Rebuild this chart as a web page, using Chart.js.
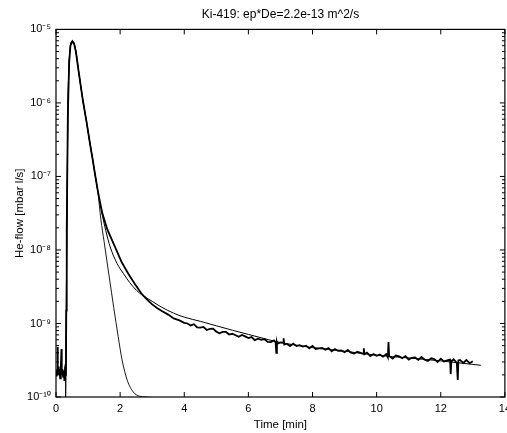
<!DOCTYPE html>
<html>
<head>
<meta charset="utf-8">
<script src="https://cdn.jsdelivr.net/npm/chart.js@4.4.1/dist/chart.umd.min.js"></script>
<style>
  html, body { margin: 0; padding: 0; background: #fff; overflow: hidden; }
  #wrap { width: 516px; height: 433px; }
</style>
</head>
<body>
<div id="wrap"><canvas id="heflow"></canvas></div>
<script>
// measured He-flow (mbar l/s) vs time (min)
const measTime = [0.00, 0.02, 0.04, 0.05, 0.06, 0.08, 0.10, 0.11, 0.13, 0.15, 0.17, 0.18, 0.20, 0.22, 0.24, 0.26, 0.28, 0.30,
  0.31, 0.32, 0.33, 0.34, 0.37, 0.41, 0.45, 0.51, 0.56, 0.62, 0.70, 0.84, 0.95, 1.06, 1.14, 1.22, 1.30, 1.38, 1.45,
  1.60, 1.72, 1.84, 2.05, 2.26, 2.45, 2.68, 2.85, 3.00, 3.15, 3.30, 3.50, 3.67, 3.85, 4.00,
  4.1, 4.2, 4.3, 4.4, 4.5, 4.6, 4.7, 4.8, 4.9, 5.0, 5.1, 5.2, 5.3, 5.4, 5.5, 5.6, 5.7, 5.8, 5.9,
  6.0, 6.1, 6.2, 6.3, 6.4, 6.5, 6.6, 6.7, 6.8, 6.85, 6.87, 6.89, 6.9, 7.0, 7.08, 7.1, 7.12, 7.2, 7.3, 7.4,
  7.5, 7.6, 7.7, 7.8, 7.9, 8.0, 8.1, 8.2, 8.3, 8.4, 8.5, 8.6, 8.7, 8.8, 8.9, 9.0, 9.1, 9.2, 9.3, 9.4,
  9.5, 9.58, 9.6, 9.62, 9.7, 9.8, 9.9, 10.0, 10.1, 10.2, 10.3, 10.35, 10.37, 10.39, 10.5, 10.6, 10.7, 10.8, 10.9,
  11.0, 11.1, 11.2, 11.3, 11.4, 11.5, 11.6, 11.7, 11.8, 11.9, 12.0, 12.1, 12.2, 12.29, 12.31, 12.33, 12.4,
  12.5, 12.53, 12.55, 12.6, 12.7, 12.8, 12.9, 13.0];
const measFlow = [2.3e-10, 1.9e-10, 2.4e-10, 4.8e-10, 2.0e-10, 2.6e-10, 2.1e-10, 2.4e-10, 1.8e-10, 2.5e-10, 4.5e-10, 2.0e-10, 2.4e-10, 1.9e-10, 2.3e-10, 1.7e-10, 2.2e-10, 2.0e-10,
  2.4e-10, 1.5e-9, 6e-9, 1.9e-8, 7e-7, 3.5e-6, 6.0e-6, 6.9e-6, 6.46e-6, 5.0e-6, 2.8e-6, 1.07e-6, 5.6e-7, 2.8e-7, 1.74e-7, 1.05e-7, 6.5e-8, 4.3e-8, 3.1e-8,
  1.9e-8, 1.45e-8, 1.1e-8, 6.8e-9, 4.7e-9, 3.5e-9, 2.5e-9, 2.1e-9, 1.82e-9, 1.62e-9, 1.48e-9, 1.32e-9, 1.17e-9, 1.1e-9, 1.02e-9,
  1.0e-9, 9.41e-10, 9.78e-10, 8.88e-10, 8.81e-10, 8.96e-10, 8.16e-10, 8.47e-10, 8.5e-10, 7.74e-10, 7.36e-10, 7.68e-10, 7.67e-10, 7.08e-10, 7.24e-10, 6.93e-10, 6.58e-10, 6.97e-10, 6.67e-10,
  6.32e-10, 6.54e-10, 5.94e-10, 6.22e-10, 6.0e-10, 6.14e-10, 5.63e-10, 5.59e-10, 5.88e-10, 5.5e-10, 4.0e-10, 5.5e-10, 5.28e-10, 5.51e-10, 5.5e-10, 6.3e-10, 5.16e-10, 5.31e-10, 4.93e-10, 5.32e-10,
  4.95e-10, 5.08e-10, 4.86e-10, 4.99e-10, 4.58e-10, 4.94e-10, 4.51e-10, 4.6e-10, 4.64e-10, 4.41e-10, 4.63e-10, 4.18e-10, 4.48e-10, 4.26e-10, 4.29e-10, 4.07e-10, 4.36e-10, 4.02e-10, 3.89e-10, 4.12e-10,
  3.99e-10, 3.86e-10, 4.6e-10, 3.82e-10, 4.0e-10, 3.61e-10, 3.83e-10, 3.63e-10, 3.78e-10, 3.53e-10, 3.83e-10, 3.46e-10, 5.6e-10, 3.6e-10, 3.34e-10, 3.66e-10, 3.56e-10, 3.36e-10, 3.6e-10,
  3.23e-10, 3.41e-10, 3.45e-10, 3.2e-10, 3.5e-10, 3.21e-10, 3.09e-10, 3.36e-10, 3.27e-10, 2.99e-10, 3.32e-10, 3.05e-10, 3.15e-10, 3.22e-10, 2.05e-10, 3.04e-10, 3.26e-10,
  2.91e-10, 1.7e-10, 3.14e-10, 3.19e-10, 2.9e-10, 3.18e-10, 2.88e-10, 3.07e-10];

// model, slow diffusion part
const fitTime = [0.30, 0.32, 0.33, 0.34, 0.37, 0.41, 0.45, 0.51, 0.56, 0.62, 0.70, 0.84, 0.95, 1.06, 1.14, 1.22, 1.30, 1.36, 1.43,
  1.55, 1.69, 1.90, 2.10, 2.30, 2.52, 2.68, 3.0, 3.3, 3.67, 4.0, 4.5, 5.0, 5.5, 6.0, 6.7, 7.0, 8.0, 9.0, 10.0, 11.0, 12.0, 13.25];
const fitFlow = [0.9e-10, 1.5e-9, 6e-9, 1.9e-8, 7e-7, 3.5e-6, 6.0e-6, 6.9e-6, 6.46e-6, 5.0e-6, 2.8e-6, 1.07e-6, 5.6e-7, 2.8e-7, 1.74e-7, 1.05e-7, 6.5e-8, 4.6e-8, 3.2e-8,
  1.85e-8, 1.1e-8, 6.6e-9, 4.8e-9, 3.6e-9, 2.8e-9, 2.45e-9, 2.0e-9, 1.66e-9, 1.38e-9, 1.22e-9, 1.07e-9, 9.3e-10, 8.1e-10, 7.1e-10, 5.9e-10, 5.5e-10, 4.7e-10, 4.2e-10, 3.7e-10, 3.4e-10, 3.1e-10, 2.7e-10];

// model, fast part only
const fastTime = [0.30, 0.32, 0.33, 0.34, 0.37, 0.41, 0.45, 0.51, 0.56, 0.62, 0.70, 0.84, 0.95, 1.06, 1.14, 1.22, 1.30, 1.40, 1.50,
  1.66, 1.80, 1.94, 2.06, 2.22, 2.41, 2.62, 2.80, 3.20];
const fastFlow = [0.9e-10, 1.5e-9, 6e-9, 1.9e-8, 7e-7, 3.5e-6, 6.0e-6, 6.9e-6, 6.46e-6, 5.0e-6, 2.8e-6, 1.07e-6, 5.6e-7, 2.8e-7, 1.74e-7, 1.05e-7, 6.5e-8, 2.6e-8, 1.3e-8,
  4.3e-9, 1.66e-9, 6.6e-10, 3.2e-10, 1.7e-10, 1.17e-10, 1.02e-10, 1.0e-10, 0.97e-10];

const xTicks = [0, 2, 4, 6, 8, 10, 12, 14];
const yTickValues = [1e-10, 1e-9, 1e-8, 1e-7, 1e-6, 1e-5];
const yTickLabels = ['10\u207B\u00B9\u2070', '10\u207B\u2079', '10\u207B\u2078', '10\u207B\u2077', '10\u207B\u2076', '10\u207B\u2075'];

const FONT = '"Liberation Sans", Arial, Helvetica, sans-serif';

function pts(xs, ys) {
  return xs.map((x, i) => ({ x: x, y: ys[i] }));
}

// matlab style box with inward ticks on all four sides
const boxTicks = {
  id: 'boxTicks',
  afterDatasetsDraw(chart) {
    const ctx = chart.ctx;
    const a = chart.chartArea;
    const xs = chart.scales.x, ys = chart.scales.y;
    ctx.save();
    ctx.strokeStyle = '#000';
    ctx.lineWidth = 1.2;
    ctx.strokeRect(a.left, a.top, a.right - a.left, a.bottom - a.top);
    ctx.lineWidth = 1;
    ctx.beginPath();
    xTicks.forEach(t => {
      const px = xs.getPixelForValue(t);
      ctx.moveTo(px, a.bottom); ctx.lineTo(px, a.bottom - 5);
      ctx.moveTo(px, a.top); ctx.lineTo(px, a.top + 5);
    });
    yTickValues.forEach((d, k) => {
      if (k == yTickValues.length - 1) return;
      for (let m = 1; m < 10; m++) {
        const py = ys.getPixelForValue(m * d);
        const len = m == 1 ? 5 : 3;
        ctx.moveTo(a.left, py); ctx.lineTo(a.left + len, py);
        ctx.moveTo(a.right, py); ctx.lineTo(a.right - len, py);
      }
    });
    ctx.stroke();
    ctx.restore();
  }
};

const ctx = document.getElementById('heflow').getContext('2d');
const chart = new Chart(ctx, {
  type: 'line',
  data: {
    datasets: [
      { label: 'measured', data: pts(measTime, measFlow), borderColor: '#000', borderWidth: 1.8, pointRadius: 0, tension: 0 },
      { label: 'model', data: pts(fitTime, fitFlow), borderColor: '#000', borderWidth: 1, pointRadius: 0, cubicInterpolationMode: 'monotone' },
      { label: 'fast', data: pts(fastTime, fastFlow), borderColor: '#000', borderWidth: 0.9, pointRadius: 0, cubicInterpolationMode: 'monotone' }
    ]
  },
  options: {
    responsive: true,
    maintainAspectRatio: false,
    animation: false,
    layout: { padding: 0 },
    plugins: {
      legend: { display: false },
      tooltip: { enabled: false },
      title: {
        display: true,
        fullSize: false,
        text: 'Ki-419: ep*De=2.2e-13 m^2/s',
        color: '#000',
        font: { family: FONT, size: 12, weight: 'normal' },
        padding: { top: 7, bottom: 8 }
      }
    },
    scales: {
      x: {
        type: 'linear',
        min: 0,
        max: 14,
        afterBuildTicks: s => { s.ticks = xTicks.map(v => ({ value: v })); },
        afterFit: s => { s.height = 36; },
        grid: { display: false, drawTicks: false },
        border: { display: false },
        ticks: { color: '#000', padding: 5, maxRotation: 0, autoSkip: false, font: { family: FONT, size: 11 } },
        title: { display: true, text: 'Time [min]', color: '#000', font: { family: FONT, size: 11.5 }, padding: { top: 0, bottom: 1.5 } }
      },
      y: {
        type: 'logarithmic',
        min: 1e-10,
        max: 1e-5,
        afterBuildTicks: s => { s.ticks = yTickValues.map(v => ({ value: v })); },
        afterFit: s => { s.width = 56; },
        grid: { display: false, drawTicks: false },
        border: { display: false },
        ticks: { color: '#000', padding: 5, font: { family: FONT, size: 11 }, callback: (v, i) => yTickLabels[i] },
        title: { display: true, text: 'He-flow [mbar l/s]', color: '#000', font: { family: FONT, size: 11.5 }, padding: { top: 13.4, bottom: 0 } }
      }
    }
  },
  plugins: [boxTicks]
});
</script>
</body>
</html>
